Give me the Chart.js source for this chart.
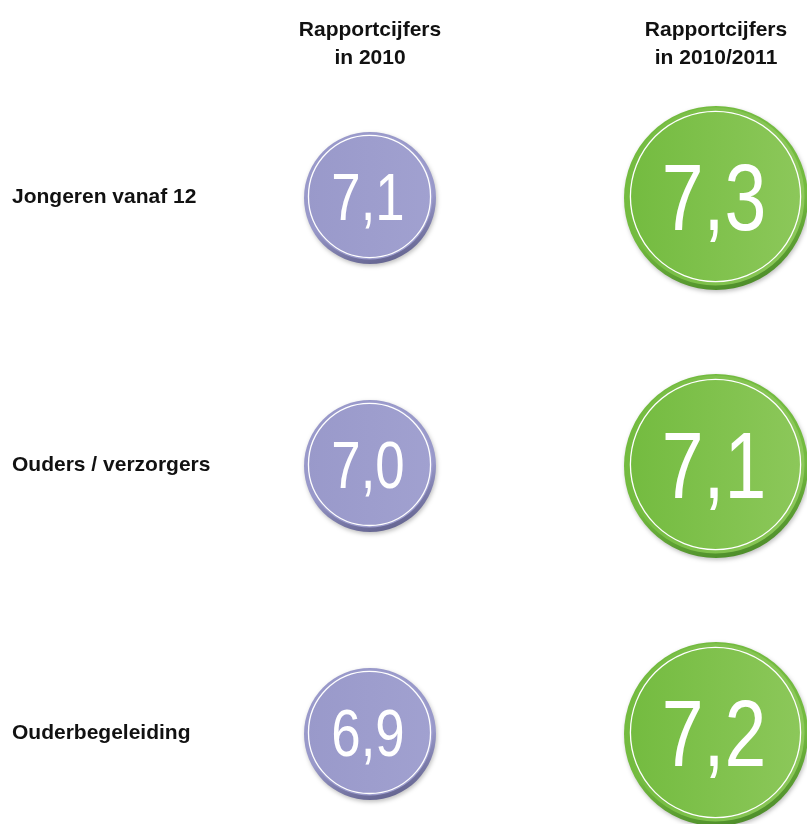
<!DOCTYPE html>
<html>
<head>
<meta charset="utf-8">
<script src="https://cdn.jsdelivr.net/npm/chart.js@4.4.0/dist/chart.umd.min.js"></script>
<style>
  html, body { margin: 0; padding: 0; background: #fff; }
  #wrap { width: 807px; height: 824px; }
</style>
</head>
<body>
<div id="wrap"><canvas id="chart" width="807" height="824"></canvas></div>
<script>
// Data
const groups = ["Jongeren vanaf 12", "Ouders / verzorgers", "Ouderbegeleiding"];
const columnTitles = [["Rapportcijfers", "in 2010"], ["Rapportcijfers", "in 2010/2011"]];
const scores2010 = [7.1, 7.0, 6.9];
const scores2011 = [7.3, 7.1, 7.2];

// badge looks per column
const badgeStyles = [
  { left: "#9999ca", right: "#a1a1d0", dark: "#63638f", font: 66, sx: 0.8 },
  { left: "#73bb3f", right: "#8dc85b", dark: "#4d8c2a", font: 94, sx: 0.8 }
];

function fmt(v) {
  return v.toFixed(1).replace(".", ",");
}

function drawBadge(ctx, x, y, r, st, text) {
  // soft drop shadow + darker rim at the bottom
  ctx.save();
  ctx.shadowColor = "rgba(0,0,0,0.25)";
  ctx.shadowBlur = 4;
  ctx.shadowOffsetX = 1;
  ctx.shadowOffsetY = 2;
  const rim = ctx.createLinearGradient(x - r * 0.3, y - r, x + r * 0.3, y + r);
  rim.addColorStop(0, st.left);
  rim.addColorStop(0.6, st.left);
  rim.addColorStop(1, st.dark);
  ctx.beginPath();
  ctx.arc(x, y, r, 0, Math.PI * 2);
  ctx.fillStyle = rim;
  ctx.fill();
  ctx.restore();

  // face
  const face = ctx.createLinearGradient(x - r, y, x + r, y);
  face.addColorStop(0, st.left);
  face.addColorStop(1, st.right);
  ctx.beginPath();
  ctx.arc(x - 0.5, y - 1.5, r - 3, 0, Math.PI * 2);
  ctx.fillStyle = face;
  ctx.fill();

  // thin white ring
  ctx.beginPath();
  ctx.arc(x - 0.5, y - 1.5, r * 0.925, 0, Math.PI * 2);
  ctx.strokeStyle = "#ffffff";
  ctx.lineWidth = 1.3;
  ctx.stroke();

  // value
  ctx.save();
  ctx.translate(x - 2, y - 1.5 + st.font * 0.716 / 2);
  ctx.scale(st.sx, 1);
  ctx.fillStyle = "#ffffff";
  ctx.font = st.font + "px 'Liberation Sans', Arial, sans-serif";
  ctx.textAlign = "center";
  ctx.textBaseline = "alphabetic";
  ctx.fillText(text, 0, 0);
  ctx.restore();
}

const badgePlugin = {
  id: "badges",
  afterDatasetsDraw(chart) {
    const ctx = chart.ctx;
    const xs = chart.scales.x;
    const ys = chart.scales.y;

    chart.data.datasets.forEach((ds, di) => {
      const meta = chart.getDatasetMeta(di);
      meta.data.forEach((el, i) => {
        drawBadge(ctx, el.x, el.y, el.options.radius, badgeStyles[di], fmt(ds.data[i].v));
      });
    });

    // row labels
    ctx.save();
    ctx.fillStyle = "#111";
    ctx.font = "bold 21px 'Liberation Sans', Arial, sans-serif";
    ctx.textAlign = "left";
    ctx.textBaseline = "middle";
    groups.forEach((g, i) => {
      ctx.fillText(g, 12, ys.getPixelForValue(i) - 1);
    });

    // column titles
    ctx.textAlign = "center";
    columnTitles.forEach((lines, c) => {
      const cx = xs.getPixelForValue(c);
      lines.forEach((line, li) => {
        ctx.fillText(line, cx, 30 + li * 28);
      });
    });
    ctx.restore();
  }
};

const ctx = document.getElementById("chart").getContext("2d");
new Chart(ctx, {
  type: "scatter",
  data: {
    datasets: [
      {
        label: "2010",
        data: scores2010.map((v, i) => ({ x: 0, y: i, v: v })),
        pointRadius: 66,
        pointBackgroundColor: "rgba(0,0,0,0)",
        pointBorderWidth: 0
      },
      {
        label: "2010/2011",
        data: scores2011.map((v, i) => ({ x: 1, y: i, v: v })),
        pointRadius: 92,
        pointBackgroundColor: "rgba(0,0,0,0)",
        pointBorderWidth: 0
      }
    ]
  },
  options: {
    responsive: false,
    animation: false,
    events: [],
    layout: { padding: 0, autoPadding: false },
    plugins: {
      legend: { display: false },
      tooltip: { enabled: false }
    },
    scales: {
      x: { type: "linear", display: false, min: -1.0694, max: 1.263 },
      y: { type: "linear", display: false, reverse: true, min: -0.7388, max: 2.336 }
    }
  },
  plugins: [badgePlugin]
});
</script>
</body>
</html>
